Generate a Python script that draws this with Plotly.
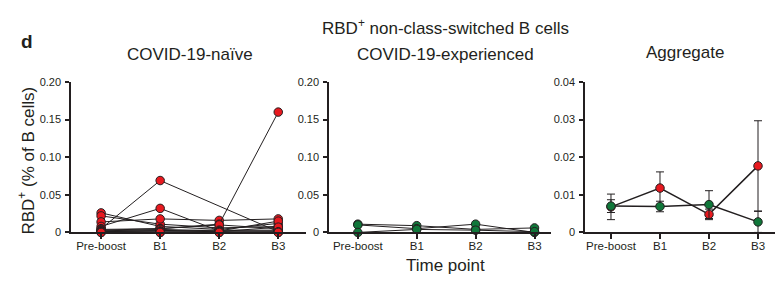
import plotly.graph_objects as go

timepoints = ["Pre-boost", "B1", "B2", "B3"]

# COVID-19-naive participants (values per time point, same participant order)
naive_pre = [0.026, 0.022, 0.014, 0.008, 0.005, 0.004, 0.003, 0.002, 0.002, 0.001, 0.001, 0.0, 0.0]
naive_b1 = [0.008, 0.011, 0.018, 0.032, 0.069, 0.005, 0.005, 0.003, 0.004, 0.002, 0.001, 0.0, 0.0]
naive_b2 = [0.004, 0.006, 0.016, 0.002, None, 0.011, 0.010, 0.003, 0.002, 0.001, 0.0, 0.001, 0.0]
naive_b3 = [0.012, 0.008, 0.018, 0.015, 0.001, 0.160, 0.005, 0.003, 0.002, 0.007, 0.0, 0.001, 0.0]

# COVID-19-experienced participants
exp_pre = [0.011, 0.010, 0.0]
exp_b1 = [0.009, 0.005, 0.004]
exp_b2 = [0.004, 0.011, 0.003]
exp_b3 = [0.006, 0.0, 0.001]

# Aggregate mean +/- SEM
agg_naive_mean = [0.0068, 0.0118, 0.0048, 0.0177]
agg_naive_sem = [0.0034, 0.0043, 0.0014, 0.0120]
agg_exp_mean = [0.0070, 0.0069, 0.0074, 0.0028]
agg_exp_sem = [0.0017, 0.0014, 0.0037, 0.0028]

RED = "#e8191f"
GREEN = "#10773a"
DARK = "#231f20"
FONT = "Liberation Sans, Arial, sans-serif"

fig = go.Figure()

def add_participants(pre, b1, b2, b3, color, xa, ya):
    for i in range(len(pre)):
        fig.add_trace(go.Scatter(
            x=timepoints, y=[pre[i], b1[i], b2[i], b3[i]],
            mode="lines+markers", connectgaps=True,
            line=dict(color=DARK, width=1),
            marker=dict(size=8.5, color=color, line=dict(color=DARK, width=1)),
            cliponaxis=False, showlegend=False, xaxis=xa, yaxis=ya))

add_participants(naive_pre, naive_b1, naive_b2, naive_b3, RED, "x", "y")
add_participants(exp_pre, exp_b1, exp_b2, exp_b3, GREEN, "x2", "y2")

for mean, sem, color in [(agg_naive_mean, agg_naive_sem, RED), (agg_exp_mean, agg_exp_sem, GREEN)]:
    fig.add_trace(go.Scatter(
        x=timepoints, y=mean, mode="lines+markers",
        error_y=dict(type="data", array=sem, symmetric=True, color=DARK, thickness=1, width=4),
        line=dict(color=DARK, width=1.5),
        marker=dict(size=8.5, color=color, line=dict(color=DARK, width=1)),
        cliponaxis=False, showlegend=False, xaxis="x3", yaxis="y3"))

W, H = 783, 286
def fx(px): return px / W
def fy(py): return 1 - py / H

axis_common = dict(showline=True, linecolor=DARK, linewidth=1.5, ticks="outside",
                   tickwidth=1.5, tickcolor=DARK, showgrid=False, zeroline=False)
xcommon = dict(ticklen=5, ticklabelstandoff=-3, type="category",
               tickfont=dict(family=FONT, size=11.5, color=DARK), **axis_common)
ycommon = dict(ticklen=4, ticklabelstandoff=2,
               tickfont=dict(family=FONT, size=11, color=DARK), **axis_common)

ydom = [fy(228), fy(71)]
fig.update_layout(
    width=W, height=H, margin=dict(l=0, r=0, t=0, b=0),
    paper_bgcolor="white", plot_bgcolor="white",
    xaxis=dict(domain=[fx(63), fx(298)], range=[-0.51, 3.47], anchor="y", **xcommon),
    yaxis=dict(domain=ydom, range=[0, 0.2], anchor="x",
               tickvals=[0, 0.05, 0.10, 0.15, 0.20],
               ticktext=["0", "0.05", "0.10", "0.15", "0.20"], **ycommon),
    xaxis2=dict(domain=[fx(321), fx(543)], range=[-0.49, 3.28], anchor="y2", **xcommon),
    yaxis2=dict(domain=ydom, range=[0, 0.2], anchor="x2",
                tickvals=[0, 0.05, 0.10, 0.15, 0.20],
                ticktext=["0", "0.05", "0.10", "0.15", "0.20"], **ycommon),
    xaxis3=dict(domain=[fx(577), fx(775)], range=[-0.53, 3.51], anchor="y3", **xcommon),
    yaxis3=dict(domain=ydom, range=[0, 0.04], anchor="x3",
                tickvals=[0, 0.01, 0.02, 0.03, 0.04],
                ticktext=["0", "0.01", "0.02", "0.03", "0.04"], **ycommon),
)

def ann(text, x, y, size=17, bold=False, angle=0, xanchor="center"):
    fig.add_annotation(text=f"<b>{text}</b>" if bold else text,
                       x=fx(x), y=fy(y), xref="paper", yref="paper",
                       xanchor=xanchor, yanchor="middle", showarrow=False, textangle=angle,
                       font=dict(family=FONT, size=size, color=DARK))

ann("d", 11, 29, size=19, bold=True, xanchor="left")
ann("RBD<sup>+</sup> non-class-switched B cells", 438, 14, size=17)
ann("COVID-19-naïve", 182, 42)
ann("COVID-19-experienced", 438, 42)
ann("Aggregate", 677, 40)
ann("Time point", 438, 262)
ann("RBD<sup>+</sup> (% of B cells)", 18, 153, size=17, angle=-90)

fig.write_html("out.html")
